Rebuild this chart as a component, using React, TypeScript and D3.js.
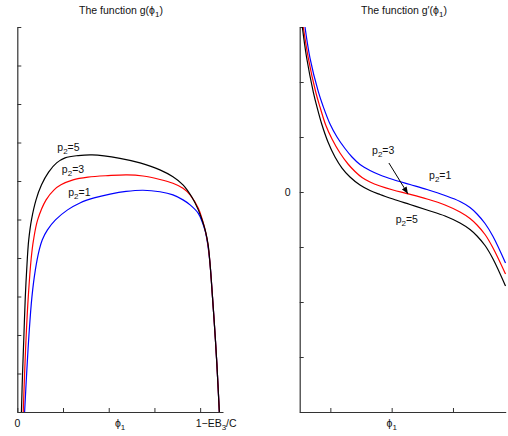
import * as d3 from 'd3';
import React, { useEffect, useRef } from 'react';

// left panel: g(phi1)
const gXTicks = [0, 0.2, 0.4, 0.6, 0.8];
const gYTicks = [0, 1, 2, 3, 4, 5, 6, 7, 8, 9, 10];
const gEndX = 0.87; // position of the 1-EB3/C label

const gP5: [number, number][] = [
  [0.018, 0], [0.023, 1.01], [0.029, 2.0], [0.035, 2.99], [0.044, 4.0], [0.05, 4.47],
  [0.062, 4.99], [0.082, 5.51], [0.106, 5.9], [0.137, 6.23], [0.172, 6.47], [0.209, 6.6],
  [0.266, 6.66], [0.327, 6.68], [0.449, 6.59], [0.537, 6.47], [0.624, 6.29], [0.681, 6.11],
  [0.725, 5.9], [0.763, 5.59], [0.792, 5.25], [0.81, 4.96], [0.824, 4.68], [0.835, 4.34],
  [0.843, 3.87], [0.854, 2.99], [0.864, 2.13], [0.873, 1.27], [0.884, 0]
];
const gP3: [number, number][] = [
  [0.026, 0], [0.032, 1.01], [0.039, 2.0], [0.048, 2.99], [0.061, 4.0], [0.071, 4.47],
  [0.089, 4.99], [0.126, 5.51], [0.161, 5.77], [0.191, 5.9], [0.244, 6.03], [0.309, 6.1],
  [0.397, 6.14], [0.48, 6.16], [0.55, 6.13], [0.624, 6.04], [0.681, 5.94], [0.725, 5.81],
  [0.756, 5.64], [0.792, 5.29], [0.81, 4.99], [0.823, 4.7], [0.834, 4.36], [0.843, 3.87],
  [0.854, 2.99], [0.864, 2.13], [0.873, 1.27], [0.884, 0]
];
const gP1: [number, number][] = [
  [0.032, 0], [0.041, 1.01], [0.051, 2.0], [0.064, 2.99], [0.079, 3.69], [0.096, 4.21],
  [0.109, 4.47], [0.132, 4.73], [0.167, 4.99], [0.22, 5.25], [0.274, 5.43], [0.336, 5.56],
  [0.406, 5.66], [0.476, 5.73], [0.55, 5.76], [0.624, 5.72], [0.681, 5.64], [0.725, 5.51],
  [0.756, 5.38], [0.792, 5.16], [0.81, 4.92], [0.823, 4.68], [0.833, 4.36], [0.843, 3.87],
  [0.854, 2.99], [0.864, 2.13], [0.873, 1.27], [0.884, 0]
];

// right panel: g'(phi1)
const dXTicks = [0.1, 0.3, 0.5];
const dYTicks = [-4, -3, -2, -1, 0, 1, 2, 3];

const dP5: [number, number][] = [
  [0.0085, 3.0], [0.0228, 2.436], [0.0444, 1.818], [0.0564, 1.545], [0.0718, 1.236],
  [0.0923, 0.909], [0.1152, 0.636], [0.138, 0.436], [0.1641, 0.273], [0.1967, 0.127],
  [0.2294, 0.027], [0.262, -0.045], [0.3044, -0.127], [0.3599, -0.227], [0.4153, -0.327],
  [0.4741, -0.436], [0.523, -0.564], [0.5556, -0.682], [0.5785, -0.8], [0.6046, -0.973],
  [0.6307, -1.218], [0.6714, -1.709]
];
const dP3: [number, number][] = [
  [0.0117, 3.0], [0.0281, 2.436], [0.0522, 1.818], [0.0662, 1.545], [0.0848, 1.218],
  [0.1054, 0.964], [0.1315, 0.709], [0.1576, 0.509], [0.1804, 0.373], [0.2033, 0.264],
  [0.2294, 0.182], [0.262, 0.109], [0.3044, 0.036], [0.3533, -0.033], [0.4153, -0.127],
  [0.4741, -0.236], [0.523, -0.364], [0.5556, -0.482], [0.5785, -0.6], [0.6046, -0.773],
  [0.6307, -1.018], [0.6714, -1.491]
];
const dP1: [number, number][] = [
  [0.0173, 3.0], [0.0336, 2.436], [0.0607, 1.824], [0.076, 1.564], [0.0989, 1.236],
  [0.1217, 1.0], [0.1478, 0.791], [0.1706, 0.636], [0.1967, 0.5], [0.2294, 0.391],
  [0.262, 0.309], [0.3044, 0.227], [0.3599, 0.136], [0.4153, 0.045], [0.4741, -0.064],
  [0.523, -0.173], [0.5556, -0.282], [0.5785, -0.4], [0.6046, -0.573], [0.6307, -0.809],
  [0.6714, -1.291]
];

const FONT = 'Liberation Sans, Arial, Helvetica, sans-serif';
const AXIS = '#333';

function App() {
  const ref = useRef<SVGSVGElement>(null);

  useEffect(() => {
    const svg = d3.select(ref.current);
    svg.selectAll('*').remove();

    const top = 27, bottom = 412;

    // text with subscripts: parts are [string, isSubscript]
    const sub = (x: number, y: number, parts: [string, boolean][], anchor = 'start') => {
      const t = svg.append('text')
        .attr('x', x).attr('y', y)
        .attr('text-anchor', anchor)
        .style('font-family', FONT).style('font-size', '10.5px').style('fill', '#111');
      let low = false;
      parts.forEach(([s, isLow]) => {
        const dy = isLow === low ? 0 : (isLow ? 3 : -3);
        t.append('tspan')
          .attr('dy', dy)
          .style('font-size', isLow ? '8px' : '10.5px')
          .text(s);
        low = isLow;
      });
      return t;
    };

    const drawAxes = (x: any, y: any, xt: number[], yt: number[]) => {
      const gx = svg.append('g')
        .attr('transform', 'translate(0,' + bottom + ')')
        .call(d3.axisBottom(x).tickValues(xt).tickSizeInner(-4).tickSizeOuter(0).tickFormat(() => ''));
      const gy = svg.append('g')
        .attr('transform', 'translate(' + x.range()[0] + ',0)')
        .call(d3.axisLeft(y).tickValues(yt).tickSizeInner(-4).tickSizeOuter(0).tickFormat(() => ''));
      [gx, gy].forEach(g => {
        g.selectAll('path,line').attr('stroke', AXIS);
        g.select('.domain').attr('stroke-width', 1.2);
      });
    };

    const drawCurve = (x: any, y: any, data: [number, number][], color: string) => {
      const line = d3.line<[number, number]>()
        .x(d => x(d[0]))
        .y(d => y(d[1]))
        .curve(d3.curveCatmullRom.alpha(0.5));
      svg.append('path')
        .datum(data)
        .attr('d', line)
        .attr('fill', 'none')
        .attr('stroke', color)
        .attr('stroke-width', 1.2);
    };

    // ---- left panel
    const xL = d3.scaleLinear().domain([0, 0.9]).range([17.3, 223]);
    const yL = d3.scaleLinear().domain([0, 10]).range([bottom, top]);
    drawAxes(xL, yL, gXTicks, gYTicks);
    drawCurve(xL, yL, gP1, '#0000ff');
    drawCurve(xL, yL, gP3, '#ff0000');
    drawCurve(xL, yL, gP5, '#000000');

    sub(121, 14, [['The function g(\u03d5', false], ['1', true], [')', false]], 'middle');
    sub(xL(0), 427, [['0', false]], 'middle');
    sub(xL(0.45), 427, [['\u03d5', false], ['1', true]], 'middle');
    sub(xL(gEndX), 427, [['1\u2212EB', false], ['3', true], ['/C', false]], 'middle');

    sub(xL(0.175), yL(6.77), [['p', false], ['2', true], ['=5', false]]);
    sub(xL(0.195), yL(6.2), [['p', false], ['2', true], ['=3', false]]);
    sub(xL(0.223), yL(5.6), [['p', false], ['2', true], ['=1', false]]);

    // ---- right panel
    const xR = d3.scaleLinear().domain([0, 0.672]).range([299.7, 505.7]);
    const yR = d3.scaleLinear().domain([-4, 3]).range([bottom, top]);
    drawAxes(xR, yR, dXTicks, dYTicks);
    drawCurve(xR, yR, dP1, '#0000ff');
    drawCurve(xR, yR, dP3, '#ff0000');
    drawCurve(xR, yR, dP5, '#000000');

    sub(404, 14, [['The function g\u2032(\u03d5', false], ['1', true], [')', false]], 'middle');
    sub(xR(0.3), 427, [['\u03d5', false], ['1', true]], 'middle');
    sub(xR(0) - 9, yR(0) + 4, [['0', false]], 'end');

    sub(xR(0.236), yR(0.7), [['p', false], ['2', true], ['=3', false]]);
    sub(xR(0.422), yR(0.23), [['p', false], ['2', true], ['=1', false]]);
    sub(xR(0.313), yR(-0.56), [['p', false], ['2', true], ['=5', false]]);

    // arrow pointing at the p2=3 curve
    svg.append('defs').append('marker')
      .attr('id', 'arr')
      .attr('viewBox', '0 0 10 10')
      .attr('refX', 10).attr('refY', 5)
      .attr('markerWidth', 7).attr('markerHeight', 7)
      .attr('markerUnits', 'userSpaceOnUse')
      .attr('orient', 'auto')
      .append('path').attr('d', 'M0,1 L10,5 L0,9 z').attr('fill', '#000');
    svg.append('line')
      .attr('x1', xR(0.291)).attr('y1', yR(0.527))
      .attr('x2', xR(0.353)).attr('y2', yR(-0.033))
      .attr('stroke', '#000').attr('stroke-width', 1)
      .attr('marker-end', 'url(#arr)');
  }, []);

  return (
    <svg ref={ref} width={508} height={436}
      style={{ position: 'absolute', left: 0, top: 0, background: '#fff' }} />
  );
}

export default App;
